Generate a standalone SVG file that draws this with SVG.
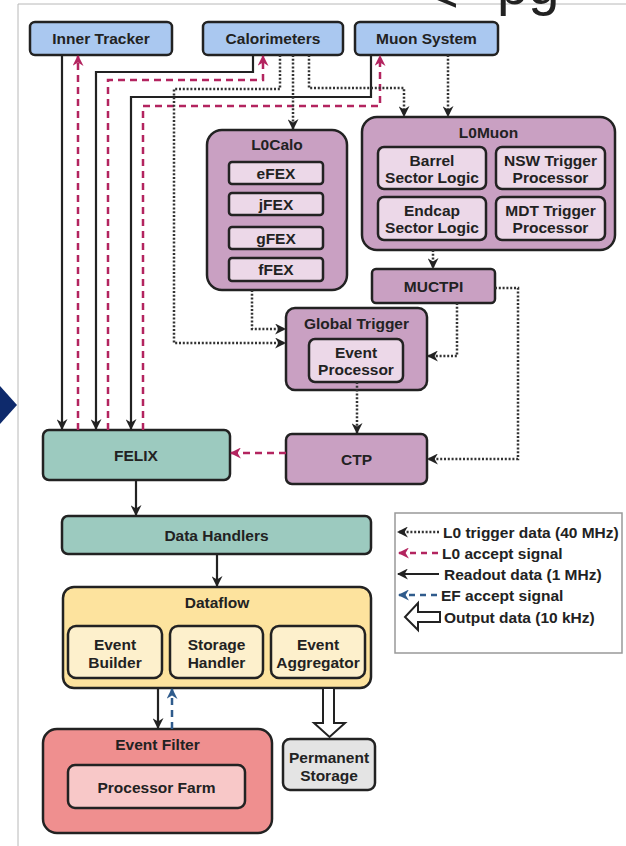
<svg xmlns="http://www.w3.org/2000/svg" width="626" height="846" viewBox="0 0 626 846">
  <style>
    text { font-family: "Liberation Sans", Arial, sans-serif; font-weight: bold; font-size: 15.5px; fill: #222; text-anchor: middle; }
    .box { stroke: #222; stroke-width: 2.5; }
    .det { fill: #aac8f0; }
    .trig { fill: #c9a0c2; }
    .sub { fill: #ecd8e8; }
    .teal { fill: #9ccabf; }
    .flow { fill: #fde39e; }
    .flowsub { fill: #fdf0cc; }
    .ef { fill: #ef8f8f; }
    .efsub { fill: #f8c8c8; }
    .store { fill: #e4e4e4; }
    .ro { fill: none; stroke: #222; stroke-width: 2.2; marker-end: url(#ah); }
    .l0 { fill: none; stroke: #333; stroke-width: 2.5; stroke-dasharray: 2 1.8; marker-end: url(#ah); }
    .acc { fill: none; stroke: #b3245f; stroke-width: 2.5; stroke-dasharray: 7 5; marker-end: url(#ahr); }
    .efa { fill: none; stroke: #2f5b8c; stroke-width: 2.5; stroke-dasharray: 7 5; marker-end: url(#ahb); }
    .leg { text-anchor: start; }
    .title { font-size: 56px; font-weight: normal; text-anchor: start; }
  </style>
  <defs>
    <marker id="ah" viewBox="0 0 10 10" refX="9" refY="5" markerWidth="11" markerHeight="11" markerUnits="userSpaceOnUse" orient="auto">
      <path d="M0,0 L10,5 L0,10 L3,5 z" fill="#222"/>
    </marker>
    <marker id="ahr" viewBox="0 0 10 10" refX="9" refY="5" markerWidth="11" markerHeight="11" markerUnits="userSpaceOnUse" orient="auto">
      <path d="M0,0 L10,5 L0,10 L3,5 z" fill="#b3245f"/>
    </marker>
    <marker id="ahb" viewBox="0 0 10 10" refX="9" refY="5" markerWidth="11" markerHeight="11" markerUnits="userSpaceOnUse" orient="auto">
      <path d="M0,0 L10,5 L0,10 L3,5 z" fill="#2f5b8c"/>
    </marker>
  </defs>

  <rect width="626" height="846" fill="#fff"/>

  <!-- slide frame, pointer and title remnants -->
  <path d="M18,846 V4 H626" fill="none" stroke="#b8b8b8" stroke-width="1"/>
  <polygon points="0,386 17,405 0,424" fill="#0e2a6c"/>
  <text class="title" x="426" y="12">&lt;</text>
  <text class="title" x="497" y="4">pg</text>

  <!-- detectors -->
  <g id="inner-tracker">
    <rect class="box det" x="30" y="22" width="142" height="33" rx="5"/>
    <text x="101" y="44">Inner Tracker</text>
  </g>
  <g id="calorimeters">
    <rect class="box det" x="203" y="22" width="140" height="33" rx="5"/>
    <text x="273" y="44">Calorimeters</text>
  </g>
  <g id="muon-system">
    <rect class="box det" x="355" y="22" width="143" height="33" rx="5"/>
    <text x="426.5" y="44">Muon System</text>
  </g>

  <!-- L0 calorimeter trigger -->
  <g id="l0calo">
    <rect class="box trig" x="207" y="130" width="140" height="160" rx="15"/>
    <text x="277" y="150">L0Calo</text>
    <rect class="box sub" x="229" y="162" width="94" height="22" rx="3"/>
    <text x="276" y="178.5">eFEX</text>
    <rect class="box sub" x="229" y="193" width="94" height="22" rx="3"/>
    <text x="276" y="209.5">jFEX</text>
    <rect class="box sub" x="229" y="227" width="94" height="22" rx="3"/>
    <text x="276" y="243.5">gFEX</text>
    <rect class="box sub" x="229" y="258" width="94" height="23" rx="3"/>
    <text x="276" y="275">fFEX</text>
  </g>

  <!-- L0 muon trigger -->
  <g id="l0muon">
    <rect class="box trig" x="362" y="117" width="253" height="133" rx="15"/>
    <text x="488.5" y="137.5">L0Muon</text>
    <rect class="box sub" x="378" y="147" width="108" height="42" rx="6"/>
    <text x="432" y="165.5">Barrel</text>
    <text x="432" y="182.5">Sector Logic</text>
    <rect class="box sub" x="496" y="147" width="109" height="42" rx="6"/>
    <text x="550.5" y="165.5">NSW Trigger</text>
    <text x="550.5" y="182.5">Processor</text>
    <rect class="box sub" x="378" y="197" width="108" height="43" rx="6"/>
    <text x="432" y="215.5">Endcap</text>
    <text x="432" y="232.5">Sector Logic</text>
    <rect class="box sub" x="496" y="197" width="109" height="43" rx="6"/>
    <text x="550.5" y="215.5">MDT Trigger</text>
    <text x="550.5" y="232.5">Processor</text>
  </g>

  <g id="muctpi">
    <rect class="box trig" x="372" y="269" width="123" height="34" rx="4"/>
    <text x="433.5" y="291.5">MUCTPI</text>
  </g>

  <g id="global-trigger">
    <rect class="box trig" x="286" y="308" width="141" height="82" rx="9"/>
    <text x="356.5" y="328.5">Global Trigger</text>
    <rect class="box sub" x="309" y="339" width="94" height="43" rx="6"/>
    <text x="356" y="357.5">Event</text>
    <text x="356" y="374.5">Processor</text>
  </g>

  <g id="ctp">
    <rect class="box trig" x="286" y="434" width="141" height="50" rx="6"/>
    <text x="356.5" y="464.5">CTP</text>
  </g>

  <!-- readout chain -->
  <g id="felix">
    <rect class="box teal" x="43" y="430" width="187" height="50" rx="6"/>
    <text x="136" y="460.5">FELIX</text>
  </g>
  <g id="data-handlers">
    <rect class="box teal" x="62" y="516" width="309" height="38" rx="6"/>
    <text x="216.5" y="540.5">Data Handlers</text>
  </g>
  <g id="dataflow">
    <rect class="box flow" x="63" y="587" width="308" height="101" rx="11"/>
    <text x="217" y="607.5">Dataflow</text>
    <rect class="box flowsub" x="68" y="626" width="94" height="52" rx="8"/>
    <text x="115" y="649.5">Event</text>
    <text x="115" y="667.5">Builder</text>
    <rect class="box flowsub" x="170" y="626" width="93" height="52" rx="8"/>
    <text x="216.5" y="649.5">Storage</text>
    <text x="216.5" y="667.5">Handler</text>
    <rect class="box flowsub" x="271" y="626" width="94" height="52" rx="8"/>
    <text x="318" y="649.5">Event</text>
    <text x="318" y="667.5">Aggregator</text>
  </g>
  <g id="event-filter">
    <rect class="box ef" x="43" y="729" width="229" height="104" rx="14"/>
    <text x="157.5" y="749.5">Event Filter</text>
    <rect class="box efsub" x="68" y="765" width="177" height="43" rx="7"/>
    <text x="156.5" y="792.5">Processor Farm</text>
  </g>
  <g id="permanent-storage">
    <rect class="box store" x="283" y="739" width="92" height="51" rx="7"/>
    <text x="329" y="762.5">Permanent</text>
    <text x="329" y="780.5">Storage</text>
  </g>

  <!-- connectors -->
  <g id="connectors">
    <!-- readout data -->
    <path class="ro" d="M62,55 V429"/>
    <path class="ro" d="M253,55 V72 H96 V429"/>
    <path class="ro" d="M371,55 V97 H131 V429"/>
    <path class="ro" d="M136,480 V515"/>
    <path class="ro" d="M217,554 V586"/>
    <path class="ro" d="M158,688 V728"/>
    <!-- L0 accept -->
    <path class="acc" d="M78,430 V56"/>
    <path class="acc" d="M108,430 V80 H263 V56"/>
    <path class="acc" d="M143,430 V106 H380 V56"/>
    <path class="acc" d="M286,453 H231"/>
    <!-- EF accept -->
    <path class="efa" d="M172,729 V689"/>
    <!-- L0 trigger data -->
    <path class="l0" d="M280,55 V89 H174 V343 H285"/>
    <path class="l0" d="M293,55 V129"/>
    <path class="l0" d="M309,55 V88 H404 V116"/>
    <path class="l0" d="M448,55 V116"/>
    <path class="l0" d="M252,290 V329 H285"/>
    <path class="l0" d="M433,250 V268"/>
    <path class="l0" d="M495,288 H518 V459 H428"/>
    <path class="l0" d="M457,303 V356 H428"/>
    <path class="l0" d="M357,382 V433"/>
    <!-- output data -->
    <polygon points="323,688 334,688 334,723 345,723 329.5,737 314,723 323,723" fill="#fff" stroke="#222" stroke-width="2"/>
  </g>

  <!-- legend -->
  <g id="legend">
    <rect x="395" y="513" width="227" height="140" fill="#fff" stroke="#999" stroke-width="1.5"/>
    <path class="l0" d="M439,532 H398"/>
    <text class="leg" x="443" y="537.5">L0 trigger data (40 MHz)</text>
    <path class="acc" d="M438,553 H399" style="stroke-dasharray:6 5"/>
    <text class="leg" x="442" y="558.5">L0 accept signal</text>
    <path class="ro" d="M439,574 H398"/>
    <text class="leg" x="444" y="579.5">Readout data (1 MHz)</text>
    <path class="efa" d="M437,595 H399" style="stroke-dasharray:6 5"/>
    <text class="leg" x="441" y="600.5">EF accept signal</text>
    <polygon points="440,612 418,612 418,603 405,617 418,630 418,622 440,622" fill="#fff" stroke="#222" stroke-width="2"/>
    <text class="leg" x="444" y="622.5">Output data (10 kHz)</text>
  </g>
</svg>
